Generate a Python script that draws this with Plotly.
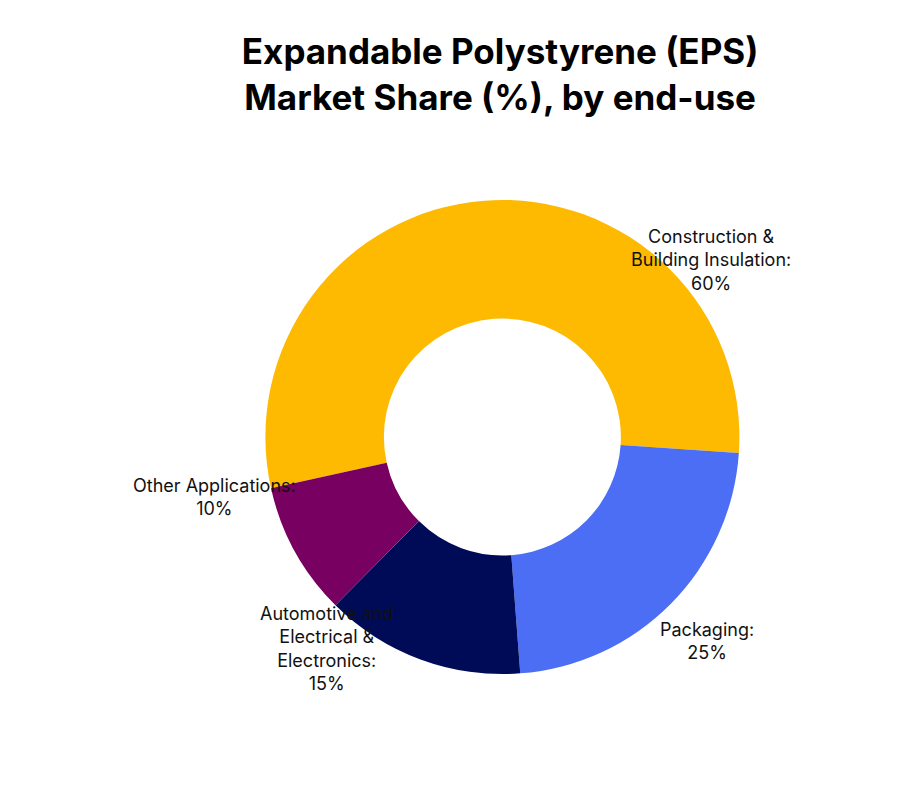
import plotly.graph_objects as go

labels = ["Construction & Building Insulation", "Packaging",
          "Automotive and Electrical & Electronics", "Other Applications"]
label_text = ["Construction &<br>Building Insulation:<br>60%", "Packaging:<br>25%",
              "Automotive and<br>Electrical &<br>Electronics:<br>15%", "Other Applications:<br>10%"]
values = [60, 25, 15, 10]
colors = ["#FDBA00", "#4C6EF5", "#000B57", "#780060"]

# label positions in pixels (x, y from top)
label_pos = [(785, 216), (748, 657), (250, 688), (123, 489)]

W, H = 903, 800

fig = go.Figure(go.Pie(
    labels=labels, values=values, hole=0.5, sort=False, direction="clockwise",
    rotation=257.5, marker=dict(colors=colors, line=dict(width=0)),
    textinfo="none", hoverinfo="label+percent",
    domain=dict(x=[0.285, 0.81], y=[0.1675, 0.76]),
))

for txt, (px, py) in zip(label_text, label_pos):
    fig.add_annotation(x=px / W, y=1 - py / H, xref="paper", yref="paper",
                       text=txt, showarrow=False, align="center",
                       font=dict(size=18, color="#111111", family="Inter"))

fig.update_layout(
    width=W, height=H, showlegend=False,
    paper_bgcolor="white", plot_bgcolor="white",
    margin=dict(l=0, r=0, t=0, b=0, autoexpand=False),
    title=dict(text="<b>Expandable Polystyrene (EPS)<br>Market Share (%), by end-use</b>",
               x=0.545, xanchor="center", y=0.93, yanchor="middle",
               font=dict(size=35, color="black", family="Inter")),
)

fig.write_html("out.html")
